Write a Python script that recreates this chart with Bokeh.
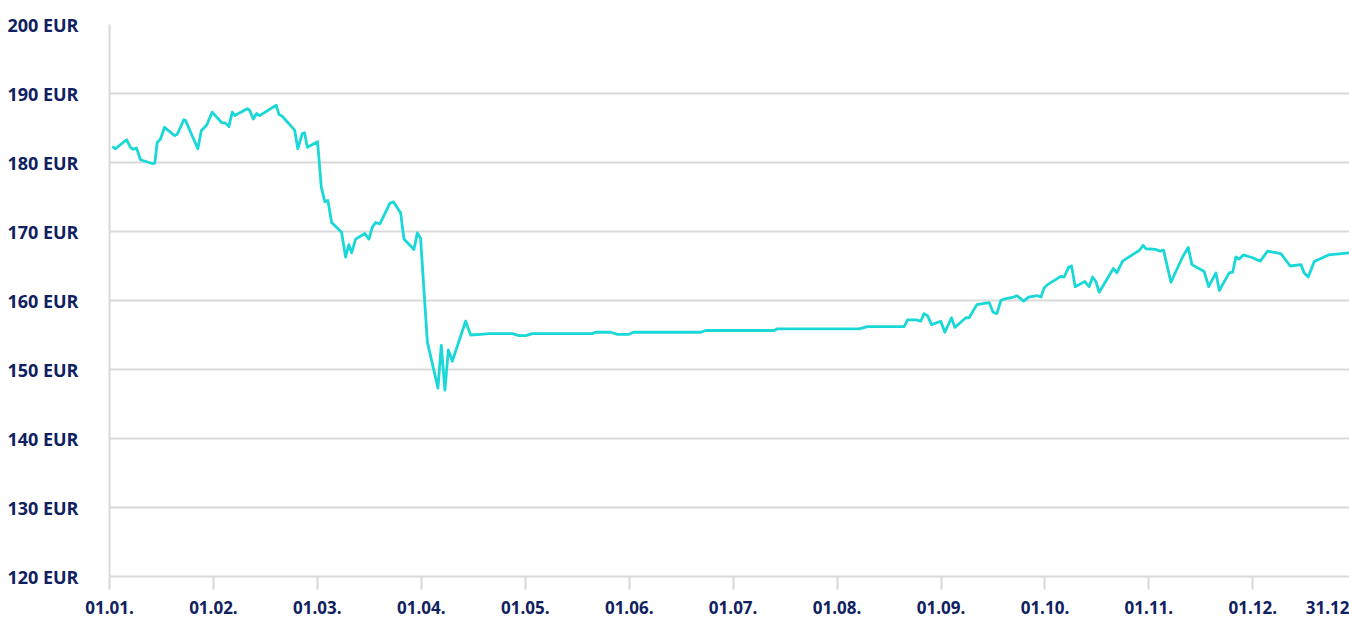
from bokeh.plotting import figure
from bokeh.models import FixedTicker
from bokeh.embed import file_html
from bokeh.resources import INLINE

# position in months from 01.01. (0 = 01.01., 1 = 01.02., ...)
month_pos = [
    0.026, 0.058, 0.164, 0.202, 0.228, 0.260, 0.298, 0.411, 0.436, 0.459,
    0.491, 0.529, 0.626, 0.652, 0.715, 0.731, 0.850, 0.883, 0.934, 0.988,
    1.078, 1.116, 1.148, 1.181, 1.206, 1.325, 1.347, 1.383, 1.415, 1.444,
    1.604, 1.629, 1.662, 1.781, 1.812, 1.855, 1.877, 1.903, 2.002, 2.038,
    2.072, 2.101, 2.137, 2.233, 2.271, 2.303, 2.329, 2.368, 2.457, 2.496,
    2.528, 2.560, 2.602, 2.698, 2.731, 2.801, 2.833, 2.929, 2.962, 2.993,
    3.058, 3.160, 3.192, 3.227, 3.260, 3.298, 3.426, 3.475, 3.571, 3.651,
    3.876, 3.939, 4.004, 4.068, 4.646, 4.677, 4.822, 4.886, 4.998, 5.040,
    5.688, 5.736, 6.394, 6.426, 7.212, 7.293, 7.645, 7.678, 7.757, 7.805,
    7.837, 7.870, 7.909, 7.998, 8.037, 8.101, 8.133, 8.239, 8.270, 8.345,
    8.463, 8.501, 8.537, 8.576, 8.614, 8.698, 8.730, 8.794, 8.842, 8.929,
    8.961, 8.992, 9.025, 9.153, 9.185, 9.227, 9.256, 9.291, 9.384, 9.425,
    9.458, 9.490, 9.522, 9.658, 9.692, 9.747, 9.859, 9.907, 9.945, 9.971,
    10.067, 10.109, 10.141, 10.212, 10.324, 10.378, 10.414, 10.532, 10.575, 10.645,
    10.677, 10.773, 10.806, 10.837, 10.869, 10.908, 10.998, 11.071, 11.142, 11.270,
    11.360, 11.463, 11.494, 11.533, 11.591, 11.729, 11.930,
]
price_eur = [
    182.3, 182.0, 183.3, 182.2, 181.9, 182.1, 180.4, 179.85, 179.9, 182.9,
    183.4, 185.1, 183.9, 184.1, 186.2, 186.1, 182.0, 184.6, 185.4, 187.3,
    185.8, 185.7, 185.2, 187.3, 186.8, 187.8, 187.6, 186.3, 187.1, 186.8,
    188.3, 187.0, 186.7, 184.7, 182.0, 184.2, 184.3, 182.2, 183.0, 176.4,
    174.3, 174.5, 171.3, 169.9, 166.3, 168.1, 166.9, 168.9, 169.7, 168.9,
    170.6, 171.3, 171.1, 174.1, 174.3, 172.7, 168.9, 167.4, 169.8, 169.0,
    154.0, 147.3, 153.5, 147.0, 152.85, 151.2, 157.0, 155.0, 155.1, 155.2,
    155.2, 154.9, 154.9, 155.2, 155.2, 155.4, 155.4, 155.1, 155.1, 155.4,
    155.4, 155.65, 155.65, 155.9, 155.9, 156.2, 156.2, 157.2, 157.2, 157.0,
    158.1, 157.8, 156.5, 157.0, 155.4, 157.5, 156.1, 157.5, 157.5, 159.4,
    159.7, 158.3, 158.1, 160.0, 160.25, 160.5, 160.7, 159.9, 160.5, 160.7,
    160.5, 161.8, 162.3, 163.5, 163.4, 164.8, 165.0, 162.0, 162.75, 162.0,
    163.4, 162.75, 161.2, 164.65, 164.0, 165.7, 166.8, 167.25, 168.0, 167.5,
    167.4, 167.15, 167.3, 162.65, 166.3, 167.7, 165.2, 164.2, 162.0, 164.0,
    161.45, 164.0, 164.1, 166.3, 166.0, 166.6, 166.2, 165.7, 167.15, 166.8,
    165.0, 165.2, 164.0, 163.4, 165.65, 166.6, 166.9,
]

x_tick_labels = ["01.01.", "01.02.", "01.03.", "01.04.", "01.05.", "01.06.",
                 "01.07.", "01.08.", "01.09.", "01.10.", "01.11.", "01.12."]
end_label = "31.12"
end_label_pos = 11.72
y_ticks = [120, 130, 140, 150, 160, 170, 180, 190, 200]

NAVY = "#0f2160"
GRID = "#d9d9d9"
LINE = "#1ad7d8"
FONT = "Open Sans"

p = figure(frame_width=1240, frame_height=552,
           x_range=(0, month_pos[-1]), y_range=(y_ticks[0], y_ticks[-1]),
           output_backend="svg", toolbar_location=None,
           min_border_left=109, min_border_right=0,
           min_border_top=24, min_border_bottom=43)
p.outline_line_color = None
p.background_fill_color = "white"

p.line(month_pos, price_eur, line_color=LINE, line_width=2.8, line_join="round")

# y axis
p.yaxis.ticker = FixedTicker(ticks=y_ticks)
p.yaxis.major_label_overrides = {v: f"{v} EUR" for v in y_ticks}
p.yaxis.axis_line_color = GRID
p.yaxis.axis_line_width = 2
p.yaxis.major_tick_line_color = None
p.yaxis.minor_tick_line_color = None
p.yaxis.major_label_standoff = 25
p.yaxis.major_label_text_font = FONT
p.yaxis.major_label_text_font_style = "bold"
p.yaxis.major_label_text_font_size = "18px"
p.yaxis.major_label_text_color = NAVY

# x axis: labels on major ticks, tick marks drawn as minor ticks at month starts
xt = list(range(len(x_tick_labels)))
p.xaxis.ticker = FixedTicker(ticks=xt + [end_label_pos], minor_ticks=xt)
overrides = {i: lab for i, lab in zip(xt, x_tick_labels)}
overrides[end_label_pos] = end_label
p.xaxis.major_label_overrides = overrides
p.xaxis.axis_line_color = GRID
p.xaxis.axis_line_width = 2
p.xaxis.major_tick_line_color = None
p.xaxis.major_tick_in = 0
p.xaxis.major_tick_out = 13
p.xaxis.minor_tick_line_color = GRID
p.xaxis.minor_tick_line_width = 2
p.xaxis.minor_tick_in = 0
p.xaxis.minor_tick_out = 13
p.xaxis.major_label_standoff = 11
p.xaxis.major_label_text_font = FONT
p.xaxis.major_label_text_font_style = "bold"
p.xaxis.major_label_text_font_size = "17px"
p.xaxis.major_label_text_color = NAVY

p.xgrid.grid_line_color = None
p.ygrid.ticker = FixedTicker(ticks=y_ticks)
p.ygrid.grid_line_color = GRID
p.ygrid.grid_line_width = 2

open("out.html", "w").write(file_html(p, INLINE))
